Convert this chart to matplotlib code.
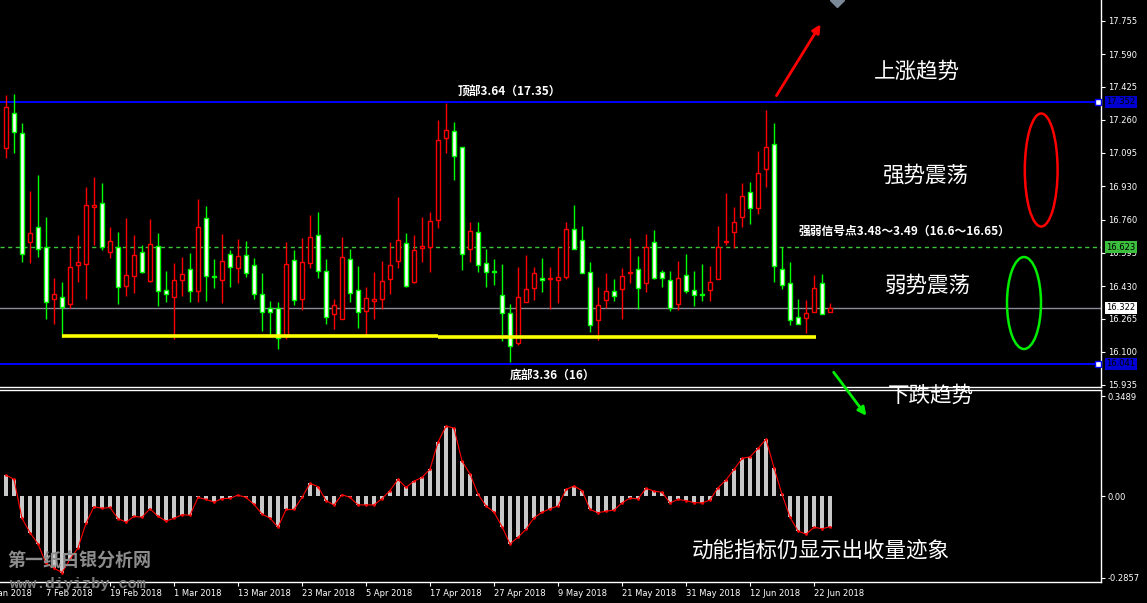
import numpy as np
import matplotlib
matplotlib.use("Agg")
import matplotlib.pyplot as plt
from matplotlib.patches import Ellipse, FancyArrowPatch
from matplotlib.transforms import blended_transform_factory, ScaledTranslation

W, H = 1147, 603
CJK = ["Noto Sans CJK SC", "DejaVu Sans"]

# daily silver candles (k = 0 .. 103)
opens = [17.118, 17.293, 17.193, 16.648, 16.723, 16.627, 16.363, 16.377, 16.338, 16.533,
         16.538, 16.827, 16.843, 16.598, 16.623, 16.428, 16.478, 16.598, 16.457, 16.628,
         16.408, 16.373, 16.458, 16.513, 16.403, 16.768, 16.478, 16.458, 16.588, 16.518,
         16.583, 16.533, 16.388, 16.318, 16.318, 16.180, 16.558, 16.367, 16.543, 16.683,
         16.503, 16.288, 16.267, 16.563, 16.408, 16.303, 16.353, 16.363, 16.467, 16.553,
         16.643, 16.448, 16.618, 16.623, 16.758, 17.168, 17.203, 17.123, 16.613, 16.698,
         16.543, 16.503, 16.383, 16.293, 16.147, 16.352, 16.418, 16.468, 16.463, 16.458,
         16.477, 16.713, 16.658, 16.498, 16.260, 16.358, 16.403, 16.417, 16.493, 16.513,
         16.443, 16.652, 16.502, 16.458, 16.338, 16.483, 16.408, 16.390, 16.408, 16.467,
         16.652, 16.698, 16.775, 16.898, 16.822, 17.013, 17.138, 16.513, 16.443, 16.273,
         16.268, 16.298, 16.443, 16.298]
highs = [17.385, 17.390, 17.247, 16.905, 16.985, 16.777, 16.468, 16.450, 16.622, 16.685,
         16.925, 16.975, 16.945, 16.725, 16.700, 16.770, 16.685, 16.635, 16.765, 16.695,
         16.505, 16.545, 16.575, 16.595, 16.865, 16.830, 16.565, 16.690, 16.610, 16.665,
         16.655, 16.570, 16.495, 16.355, 16.352, 16.648, 16.610, 16.668, 16.785, 16.800,
         16.563, 16.363, 16.675, 16.615, 16.530, 16.423, 16.498, 16.553, 16.650, 16.875,
         16.693, 16.685, 16.775, 16.800, 17.260, 17.345, 17.250, 17.123, 16.748, 16.750,
         16.615, 16.565, 16.540, 16.340, 16.525, 16.583, 16.525, 16.568, 16.523, 16.623,
         16.750, 16.833, 16.730, 16.550, 16.427, 16.497, 16.465, 16.522, 16.672, 16.580,
         16.692, 16.710, 16.512, 16.505, 16.555, 16.590, 16.503, 16.540, 16.530, 16.732,
         16.895, 16.825, 16.945, 16.950, 17.107, 17.310, 17.247, 16.623, 16.548, 16.365,
         16.360, 16.485, 16.490, 16.343]
lows = [17.068, 17.093, 16.552, 16.547, 16.577, 16.263, 16.240, 16.177, 16.322, 16.452,
        16.365, 16.635, 16.610, 16.572, 16.342, 16.380, 16.397, 16.497, 16.452, 16.332,
        16.352, 16.163, 16.382, 16.352, 16.352, 16.357, 16.422, 16.347, 16.427, 16.447,
        16.477, 16.367, 16.207, 16.177, 16.117, 16.165, 16.335, 16.310, 16.522, 16.472,
        16.242, 16.217, 16.267, 16.352, 16.222, 16.183, 16.267, 16.317, 16.388, 16.522,
        16.427, 16.443, 16.552, 16.502, 16.718, 17.093, 16.958, 16.508, 16.548, 16.500,
        16.423, 16.437, 16.157, 16.050, 16.135, 16.352, 16.362, 16.402, 16.313, 16.347,
        16.467, 16.613, 16.495, 16.198, 16.160, 16.318, 16.355, 16.265, 16.447, 16.317,
        16.402, 16.465, 16.427, 16.307, 16.312, 16.397, 16.332, 16.355, 16.357, 16.463,
        16.637, 16.618, 16.727, 16.742, 16.792, 16.927, 16.452, 16.413, 16.235, 16.238,
        16.193, 16.298, 16.288, 16.298]
closes = [17.323, 17.202, 16.590, 16.697, 16.613, 16.348, 16.388, 16.323, 16.523, 16.548,
          16.833, 16.833, 16.623, 16.653, 16.423, 16.483, 16.583, 16.502, 16.638, 16.403,
          16.388, 16.458, 16.488, 16.403, 16.723, 16.478, 16.473, 16.553, 16.523, 16.578,
          16.493, 16.388, 16.298, 16.298, 16.172, 16.538, 16.358, 16.548, 16.675, 16.503,
          16.273, 16.337, 16.573, 16.393, 16.298, 16.368, 16.363, 16.453, 16.533, 16.658,
          16.428, 16.608, 16.628, 16.753, 17.158, 17.208, 17.080, 16.590, 16.703, 16.533,
          16.498, 16.502, 16.293, 16.128, 16.373, 16.413, 16.493, 16.458, 16.468, 16.473,
          16.713, 16.613, 16.493, 16.233, 16.333, 16.405, 16.378, 16.478, 16.498, 16.418,
          16.625, 16.468, 16.470, 16.318, 16.468, 16.403, 16.383, 16.387, 16.448, 16.623,
          16.657, 16.748, 16.878, 16.820, 16.993, 17.123, 16.530, 16.433, 16.260, 16.238,
          16.293, 16.418, 16.288, 16.322]

# momentum histogram
momentum = [0.073, 0.058, -0.078, -0.128, -0.167, -0.235, -0.252, -0.267, -0.221, -0.181,
            -0.095, -0.037, -0.043, -0.040, -0.079, -0.091, -0.071, -0.074, -0.044, -0.071,
            -0.087, -0.078, -0.065, -0.067, -0.005, -0.012, -0.021, -0.009, -0.008, 0.003,
            -0.005, -0.029, -0.063, -0.077, -0.109, -0.047, -0.047, -0.005, 0.044, 0.033,
            -0.016, -0.031, 0.005, -0.005, -0.031, -0.031, -0.031, -0.009, 0.019, 0.058,
            0.030, 0.052, 0.065, 0.094, 0.188, 0.244, 0.237, 0.122, 0.077, 0.007,
            -0.035, -0.056, -0.107, -0.167, -0.144, -0.116, -0.076, -0.057, -0.044, -0.035,
            0.023, 0.035, 0.019, -0.047, -0.058, -0.053, -0.049, -0.024, -0.007, -0.010,
            0.027, 0.017, 0.013, -0.024, -0.012, -0.016, -0.023, -0.024, -0.014, 0.029,
            0.056, 0.093, 0.131, 0.137, 0.166, 0.198, 0.099, 0.006, -0.074, -0.122,
            -0.133, -0.109, -0.114, -0.107]

date_ticks = [-3, 5, 13, 21, 29, 37, 45, 53, 61, 69, 77, 85, 93, 101]
date_labels = ["29 Jan 2018", "7 Feb 2018", "19 Feb 2018", "1 Mar 2018", "13 Mar 2018",
               "23 Mar 2018", "5 Apr 2018", "17 Apr 2018", "27 Apr 2018", "9 May 2018",
               "21 May 2018", "31 May 2018", "12 Jun 2018", "22 Jun 2018"]
price_ticks = [17.755, 17.590, 17.425, 17.260, 17.095, 16.930, 16.760, 16.595,
               16.430, 16.265, 16.100, 15.935]
mom_ticks = [0.3489, 0.0, -0.2857]
mom_labels = ["0.3489", "0.00", "-0.2857"]

top_level = 17.352
bottom_level = 16.041
signal_level = 16.623
last_price = 16.322
support_start = [7, 54]
support_end = [54, 101.25]
support_price = [16.178, 16.173]


def fpos(px, py):
    return px / W, 1 - py / H


fig = plt.figure(figsize=(W / 100, H / 100), dpi=100, facecolor="black")
ax = fig.add_axes([0, 1 - 387 / H, 1101 / W, 387 / H], facecolor="black")
ax2 = fig.add_axes([0, 1 - 582 / H, 1101 / W, 192 / H], facecolor="black")

x = np.arange(len(opens))
o, h, l, c = map(np.array, (opens, highs, lows, closes))
up = c >= o
body_lo = np.minimum(o, c)
body_h = np.maximum(np.abs(c - o), 0.004)

ax.vlines(x[up], l[up], h[up], color="red", lw=1, zorder=3)
ax.vlines(x[~up], l[~up], h[~up], color="#00ff00", lw=1, zorder=3)
ax.bar(x[up], body_h[up], bottom=body_lo[up], width=0.55, facecolor="black",
       edgecolor="red", lw=1, zorder=4)
ax.bar(x[~up], body_h[~up], bottom=body_lo[~up], width=0.55, facecolor="white",
       edgecolor="#00ff00", lw=1, zorder=4)

# level lines
ax.axhline(top_level, color="#0000ff", lw=1.4, zorder=2)
ax.axhline(bottom_level, color="#0000ff", lw=1.4, zorder=2)
ax.axhline(signal_level, color="#3cc43c", lw=1, ls=(0, (3, 2.5)), zorder=2)
ax.axhline(last_price, color="#8a8a9a", lw=1, zorder=2)
ax.hlines(support_price, support_start, support_end, color="#ffff00", lw=2.6, zorder=5)
for lv in (top_level, bottom_level):
    ax.plot([136.5], [lv], marker="s", ms=4, mfc="white", mec="#0000ff", mew=1,
            clip_on=False, zorder=6)
ax.plot([103.9], [17.86], marker="D", ms=7, color="#7a8898", clip_on=False, zorder=6)

ax.add_patch(Ellipse((129.4, 17.01), 4.1, 0.565, fill=False, ec="red", lw=1.8, zorder=6))
ax.add_patch(Ellipse((127.25, 16.345), 4.25, 0.46, fill=False, ec="#00ee00", lw=1.8, zorder=6))

ax.set_xlim(-0.75, 136.875)
ax.set_ylim(15.925, 17.86)
ax.set_xticks([])
ax.yaxis.tick_right()
ax.set_yticks(price_ticks)
ax.set_yticklabels(["%.3f" % t for t in price_ticks])
ax.tick_params(axis="y", colors="white", labelsize=6, length=3, pad=2, width=0.8)
for s in ("left", "top"):
    ax.spines[s].set_visible(False)
for s in ("bottom", "right"):
    ax.spines[s].set_color("white")
    ax.spines[s].set_linewidth(1)

# price label boxes on the right scale
tr = blended_transform_factory(ax.transAxes, ax.transData)
for lv, fc in ((top_level, "#0000d0"), (bottom_level, "#0000d0"),
               (signal_level, "#3cbf3c"), (last_price, "white")):
    ax.text(1.005, lv, "%.3f" % lv, transform=tr, ha="left", va="center", fontsize=6,
            color="black", clip_on=False, zorder=10,
            bbox=dict(boxstyle="square,pad=0.18", fc=fc, ec="none"))

# momentum panel
ax2.bar(x, momentum, width=0.4, color="#c8c8c8", zorder=2)
ax2.plot(x, momentum, color="red", lw=0.8, marker=".", ms=1.8, zorder=3)
ax2.set_xlim(-0.75, 136.875)
ax2.set_ylim(-0.300, 0.370)
ax2.yaxis.tick_right()
ax2.set_yticks(mom_ticks)
ax2.set_yticklabels(mom_labels)
ax2.set_xticks([t for t in date_ticks if t >= 0])
ax2.set_xticklabels([d for t, d in zip(date_ticks, date_labels) if t >= 0])
for lbl in ax2.get_xticklabels():
    lbl.set_ha("left")
# first date label starts left of the chart and is cut by the edge
tr2 = blended_transform_factory(ax2.transData, ax2.transAxes) + \
    ScaledTranslation(0, -5 / 72, fig.dpi_scale_trans)
for t, d in zip(date_ticks, date_labels):
    if t < 0:
        ax2.text(t, 0, d, transform=tr2, ha="left", va="top", fontsize=6,
                 color="white", clip_on=False)
ax2.tick_params(colors="white", labelsize=6, length=3, pad=2, width=0.8)
ax2.spines["left"].set_visible(False)
for s in ("bottom", "right", "top"):
    ax2.spines[s].set_color("white")
    ax2.spines[s].set_linewidth(1)

# annotations
fig.text(*fpos(509, 91), "顶部3.64（17.35）", color="white", fontsize=8.5,
         fontweight="bold", ha="center", va="center", family=CJK)
fig.text(*fpos(553, 375), "底部3.36（16）", color="white", fontsize=8.5,
         fontweight="bold", ha="center", va="center", family=CJK)
fig.text(*fpos(905, 231), "强弱信号点3.48～3.49（16.6～16.65）", color="white", fontsize=8.5,
         fontweight="bold", ha="center", va="center", family=CJK)
for txt, px, py in (("上涨趋势", 917, 72), ("强势震荡", 926, 176), ("弱势震荡", 928, 286),
                    ("下跌趋势", 931, 396), ("动能指标仍显示出收量迹象", 821, 551)):
    fig.text(*fpos(px, py), txt, color="white", fontsize=15.5, ha="center", va="center",
             family=CJK)

fig.text(*fpos(79, 561), "第一纸白银分析网", color="#8c8c8c", fontsize=13,
         fontweight="bold", ha="center", va="center", family=CJK)
fig.text(*fpos(78, 584), "www.diyizby.com", color="#7c7c7c", fontsize=11,
         fontweight="bold", ha="center", va="center", family="Liberation Mono")

fig.add_artist(FancyArrowPatch(fpos(775, 98), fpos(822, 22), transform=fig.transFigure,
                               arrowstyle="-|>", mutation_scale=12, color="red", lw=2))
fig.add_artist(FancyArrowPatch(fpos(832, 370), fpos(868, 418), transform=fig.transFigure,
                               arrowstyle="-|>", mutation_scale=12, color="#00ee00", lw=2))

fig.savefig("out.png", dpi=100, facecolor="black")
